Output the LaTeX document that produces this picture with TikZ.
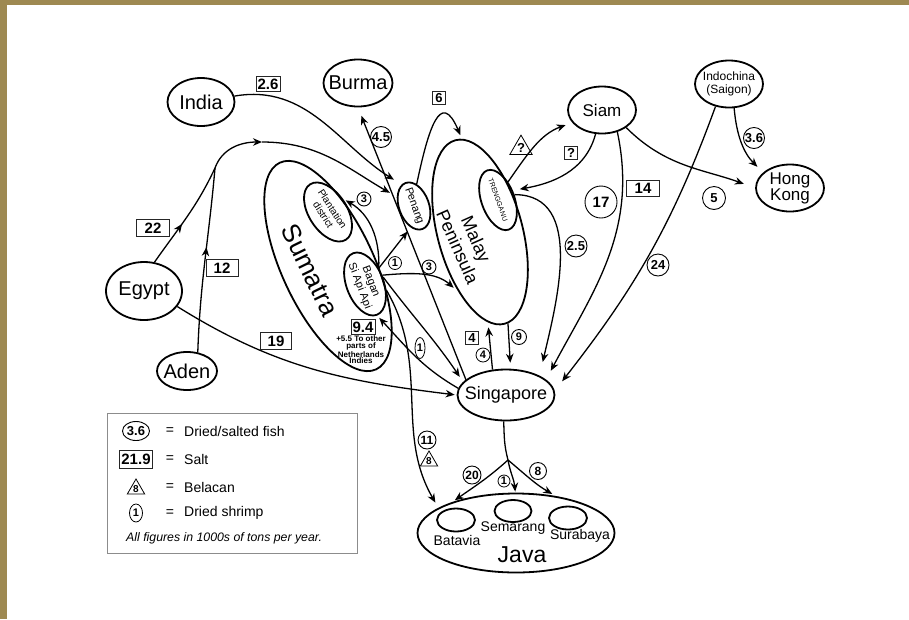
\documentclass[tikz,border=0pt]{standalone}
\usepackage{fontspec}
\setmainfont{Liberation Sans}
\usetikzlibrary{arrows.meta,shapes.geometric,decorations.markings}
\definecolor{framegold}{RGB}{158,137,82}
\newcommand{\fsz}[2]{\fontsize{#1}{#2}\selectfont}

\begin{document}
\begin{tikzpicture}[x=1pt,y=1pt,>={Stealth[length=9pt,width=7.5pt]},
    fish/.style={circle,draw,line width=0.9pt,inner sep=0.3pt,minimum size=#1,font=\bfseries\fsz{13}{13}},
    fish/.default=22pt,
    salt/.style={rectangle,draw=black!85,line width=0.9pt,inner sep=1.6pt,minimum height=15pt,font=\bfseries\fsz{15}{15}},
    bel/.style={regular polygon,regular polygon sides=3,draw,line width=0.8pt,inner sep=0pt,font=\bfseries\fsz{10}{10}},
    shrimp/.style={circle,draw,line width=0.8pt,inner sep=0.3pt,minimum size=13pt,font=\bfseries\fsz{11}{11}},
    mid/.style={postaction={decorate},decoration={markings,mark=at position #1 with {\arrow{>}}}}]
  \useasboundingbox (0,0) rectangle (909,-619);
  \fill[white] (0,0) rectangle (909,-619);
  \fill[framegold] (0,0) rectangle (909,-5);
  \fill[framegold] (0,0) rectangle (7,-619);

  \begin{scope}[every node/.style={ellipse,draw,line width=1.8pt,inner xsep=-8pt,inner ysep=-4pt,align=center}]
    \node[minimum width=76pt,minimum height=58pt,font=\fsz{20}{20}] (Eg) at (144,-291) {Egypt};
    \node[minimum width=60pt,minimum height=38pt,font=\fsz{20}{20}] (Ad) at (187,-371) {Aden};
    \node[minimum width=67pt,minimum height=48pt,font=\fsz{20}{20}] (In) at (201,-102) {India};
    \node[minimum width=69pt,minimum height=47pt,font=\fsz{20}{20}] (Bu) at (358,-83) {Burma};
    \node[minimum width=228pt,minimum height=92pt,rotate=-65] (Su) at (328,-266) {};
    \node[minimum width=66pt,minimum height=38pt,rotate=-57,font=\fsz{10}{11}] (Pl) at (328,-212) {Plantation\\district};
    \node[minimum width=66pt,minimum height=37pt,rotate=-69,font=\fsz{11}{12}] (Ba) at (365,-284) {Bagan\\Si Api Api};
    \node[minimum width=49pt,minimum height=30pt,rotate=-70,font=\fsz{11}{11}] (Pe) at (414,-206) {Penang};
    \node[minimum width=190pt,minimum height=85pt,rotate=-75] (Ma) at (480,-232) {};
    \node[minimum width=63pt,minimum height=33pt,rotate=-70,font=\fsz{7}{7}] (Tr) at (498,-200) {TRENGGANU};
    \node[minimum width=68pt,minimum height=47pt,font=\fsz{17}{17}] (Sm) at (602,-110) {Siam};
    \node[minimum width=68pt,minimum height=47pt,font=\fsz{12}{13}] (Ic) at (729,-84) {Indochina\\(Saigon)};
    \node[minimum width=68pt,minimum height=47pt,font=\fsz{17}{16}] (HK) at (790,-188) {Hong\\Kong};
    \node[minimum width=97pt,minimum height=51pt,font=\fsz{18}{18}] (Sg) at (506,-395) {Singapore};
    \node[minimum width=197pt,minimum height=79pt] (Ja) at (516,-533) {};
    \node[minimum width=38pt,minimum height=23pt] (Bt) at (456,-520) {};
    \node[minimum width=37pt,minimum height=22pt] (Se) at (513,-511) {};
    \node[minimum width=38pt,minimum height=23pt] (Sb) at (568,-518) {};
  \end{scope}

  \begin{scope}[every node/.style={inner sep=0pt,align=center}]
    \node[rotate=-64,font=\fsz{26}{26}] (sut) at (310,-270) {Sumatra};
    \node[rotate=-66,font=\fsz{18}{20}] (mat) at (467,-243) {Malay\\Peninsula};
    \node[font=\fsz{23}{23}] (jat) at (522,-555) {Java};
    \node[font=\fsz{14}{14}] (btt) at (457,-540) {Batavia};
    \node[font=\fsz{14}{14}] (set) at (513,-528) {Semarang};
    \node[font=\fsz{14}{14}] (sbt) at (580,-536) {Surabaya};
    \node[font=\bfseries\fsz{8}{6.8}] (nt) at (361,-350) {+5.5 To other\\parts of\\Netherlands\\Indies};
  \end{scope}

  \coordinate (J) at (215,-168);
  \coordinate (T) at (262,-142);
  \coordinate (Sp) at (508,-460);

  \begin{scope}[every edge/.style={draw=black,line width=1.3pt}]
    \draw[line width=1.3pt,mid=0.42] (Eg.70) to[out=55,in=245] (J);
    \draw[line width=1.3pt,mid=0.57] (Ad.60) to[out=88,in=265] (J);
    \path [->] (J) edge [out=70,in=180] (T);
    \path [->] (T) edge [out=0,in=150,shorten >=8pt] (Pe.222);
    \path [->] (In) edge [out=10,in=148,shorten >=9pt] (Pe.190);
    \path [->] (Sg.159) edge [shorten >=9pt] (Bu.south);
    \path [->] (Ba.118) edge [out=88,in=-30,shorten >=3pt] (Pl.98);
    \path [->] (Ba.118) edge [shorten >=5pt] (Pe.331);
    \path [->] (Ba.96) edge [out=5,in=139,shorten >=6pt] (Ma.325);
    \path [->] (Ba.90) edge [out=-53,in=124,shorten >=6pt] (Sg.163);
    \path [->] (Ba.53) edge [out=-60,in=120,shorten >=6pt] (Ja.162);
    \path [->] (Sg.172) edge [out=150,in=-47,shorten >=3pt] (Ba.0);
    \path [->] (Eg.335) edge [out=-32,in=173,shorten >=2pt] (Sg.180);
    \path [->] (Pe.153) edge [out=78,in=113,looseness=2.2,shorten >=4pt] (Ma.176);
    \path [->] (Sg.118) edge [shorten >=5pt] (Ma.350);
    \path [->] (Ma.2) edge [shorten >=6pt] (Sg.80);
    \path [->] (Tr.88) edge [out=0,in=77,shorten >=14pt] (Sg.30);
    \path [->] (Tr.131) edge [out=55,in=200,shorten >=7pt] (Sm.203);
    \path [->] (Sm.255) edge [out=-105,in=10,shorten >=7pt] (Tr.103);
    \path [->] (Sm.305) edge [out=-78,in=62,shorten >=10pt] (Sg.21);
    \path [->] (Ic.239) edge [out=-110,in=52,shorten >=12pt] (Sg.5);
    \path [->] (Sm.324) edge [out=-45,in=160,shorten >=12pt] (HK.180);
    \path [->] (Ic.282) edge [out=-85,in=135,shorten >=8pt] (HK.150);
    \path (Sg.265) edge [out=-88,in=105] (Sp);
    \path [->] (Sp) edge [out=-138,in=35,shorten >=3pt] (Ja.154);
    \path [->] (Sp) edge [out=-80,in=95,shorten >=1pt] (Ja.91);
    \path [->] (Sp) edge [out=-40,in=150,shorten >=4pt] (Ja.43);
  \end{scope}

  % amounts
  \node[salt] (s26) at (268,-84) {2.6};
  \node[salt,minimum width=33pt,minimum height=17pt] (s22) at (153,-228) {22};
  \node[salt,minimum width=32pt,minimum height=17pt] (s12) at (222,-268) {12};
  \node[salt,minimum width=31pt,minimum height=17pt] (s19) at (276,-341) {19};
  \node[salt,minimum size=13pt,font=\bfseries\fsz{13}{13}] (s6) at (439,-98) {6};
  \node[salt,minimum size=13pt,font=\bfseries\fsz{13}{13}] (sq) at (571,-153) {?};
  \node[salt,minimum width=33pt,minimum height=16pt] (s14) at (643,-188) {14};
  \node[salt,minimum size=13pt,font=\bfseries\fsz{13}{13}] (s4) at (472,-338) {4};
  \node[salt] (s94) at (363,-327) {9.4};

  \node[fish=21pt] (f45) at (381,-137) {4.5};
  \node[fish=14pt,font=\bfseries\fsz{11}{11}] (f3a) at (364,-199) {3};
  \node[fish=14pt,font=\bfseries\fsz{11}{11}] (f3b) at (429,-267) {3};
  \node[fish] (f25) at (576,-246) {2.5};
  \node[fish=32pt,font=\bfseries\fsz{15}{15}] (f17) at (601,-202) {17};
  \node[fish=23pt] (f5) at (714,-198) {5};
  \node[fish=21pt] (f36) at (754,-138) {3.6};
  \node[fish] (f24) at (658,-265) {24};
  \node[fish=15pt,font=\bfseries\fsz{11}{11}] (f9) at (519,-337) {9};
  \node[fish=18pt,font=\bfseries\fsz{12}{12}] (f20) at (472,-475) {20};
  \node[fish=17pt,font=\bfseries\fsz{12}{12}] (f8) at (538,-471) {8};
  \node[fish=18pt,font=\bfseries\fsz{12}{12}] (f11) at (427,-440) {11};

  \node[shrimp] (p1a) at (395,-263) {1};
  \node[shrimp,ellipse,minimum width=10pt,minimum height=21pt,inner sep=0pt] (p1b) at (420,-348) {1};
  \node[shrimp,minimum size=14pt] (p4) at (483,-355) {4};
  \node[shrimp,minimum size=12pt] (p1c) at (504,-481) {1};

  \node[bel,font=\bfseries\fsz{13}{13}] (bq) at (521,-148) {?};
  \node[bel] (b8) at (429,-461) {8};

  % key
  \node[draw=black!45,line width=0.8pt,minimum width=250pt,minimum height=140pt] (key) at (232,-483) {};
  \node[ellipse,draw,line width=0.9pt,inner sep=0pt,minimum width=27pt,minimum height=19pt,font=\bfseries\fsz{13}{13}] (lf) at (136,-431) {3.6};
  \node[salt,minimum height=18pt] (ls) at (136,-459) {21.9};
  \node[bel] (lb) at (136,-489) {8};
  \node[shrimp,ellipse,minimum width=13pt,minimum height=18pt,inner sep=0pt] (lp) at (136,-513) {1};
  \begin{scope}[every node/.style={inner sep=0pt,font=\fsz{14}{14}}]
    \node (e1) at (170,-431) {=};
    \node (e2) at (170,-459) {=};
    \node (e3) at (170,-487) {=};
    \node (e4) at (170,-513) {=};
    \node[anchor=west] (k1) at (184,-431) {Dried/salted fish};
    \node[anchor=west] (k2) at (184,-459) {Salt};
    \node[anchor=west] (k3) at (184,-487) {Belacan};
    \node[anchor=west] (k4) at (184,-513) {Dried shrimp};
    \node[anchor=west,font=\itshape\fsz{12.3}{12.3}] (k5) at (126,-538) {All figures in 1000s of tons per year.};
  \end{scope}
\end{tikzpicture}
\end{document}
